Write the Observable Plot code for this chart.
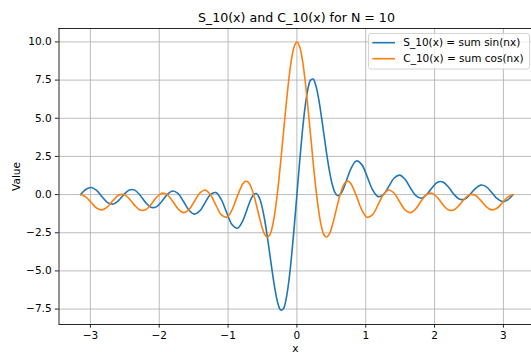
<!DOCTYPE html>
<html>
<head>
<meta charset="utf-8">
<script src="https://cdn.jsdelivr.net/npm/d3@7"></script>
<script src="https://cdn.jsdelivr.net/npm/@observablehq/plot@0.6"></script>
<style>
  html, body { margin: 0; padding: 0; background: #fff; overflow: hidden; }
  body { width: 531px; height: 352px; position: relative; font-family: "DejaVu Sans", sans-serif; }
  #title { position: relative; height: 24px; }
  #title span { position: absolute; left: 58.5px; width: 475.8px; top: 11.8px; text-align: center;
    font-size: 12.6px; line-height: 1; color: #000; white-space: nowrap; }
  #legend { position: absolute; left: 368px; top: 33px; }
</style>
</head>
<body>
<div id="title"><span>S_10(x) and C_10(x) for N = 10</span></div>
<div id="chart"></div>
<svg id="legend" width="163" height="37"></svg>
<script>
// x samples (radians)
const xs = [
  -3.1416, -3.0631, -2.9845, -2.9060, -2.8274, -2.7489, -2.6704, -2.5918, -2.5133, -2.4347,
  -2.3562, -2.2777, -2.1991, -2.1206, -2.0420, -1.9635, -1.8850, -1.8064, -1.7279, -1.6493,
  -1.5708, -1.4923, -1.4137, -1.3352, -1.2566, -1.1781, -1.0996, -1.0210, -0.9425, -0.8639,
  -0.7854, -0.7461, -0.7069, -0.6676, -0.6283, -0.5890, -0.5498, -0.5105, -0.4712, -0.4320,
  -0.3927, -0.3534, -0.3142, -0.2749, -0.2356, -0.1963, -0.1571, -0.1178, -0.0785, -0.0393,
  0,
  0.0393, 0.0785, 0.1178, 0.1571, 0.1963, 0.2356, 0.2749, 0.3142, 0.3534, 0.3927,
  0.4320, 0.4712, 0.5105, 0.5498, 0.5890, 0.6283, 0.6676, 0.7069, 0.7461, 0.7854,
  0.8639, 0.9425, 1.0210, 1.0996, 1.1781, 1.2566, 1.3352, 1.4137, 1.4923, 1.5708,
  1.6493, 1.7279, 1.8064, 1.8850, 1.9635, 2.0420, 2.1206, 2.1991, 2.2777, 2.3562,
  2.4347, 2.5133, 2.5918, 2.6704, 2.7489, 2.8274, 2.9060, 2.9845, 3.0631, 3.1416
];
// S_10(x) values
const sVals = [
  0, 0.348, 0.461, 0.253, -0.158, -0.523, -0.620, -0.395, 0, 0.300,
  0.293, -0.040, -0.510, -0.832, -0.806, -0.451, 0, 0.238, 0.073, -0.436,
  -1.000, -1.277, -1.085, -0.539, 0, 0.134, -0.316, -1.171, -1.963, -2.205,
  -1.707, -1.251, -0.751, -0.301, 0, 0.066, -0.166, -0.721, -1.583, -2.689,
  -3.937, -5.195, -6.314, -7.146, -7.565, -7.481, -6.853, -5.696, -4.081, -2.129,
  0,
  2.129, 4.081, 5.696, 6.853, 7.481, 7.565, 7.146, 6.314, 5.195, 3.937,
  2.689, 1.583, 0.721, 0.166, -0.066, 0, 0.301, 0.751, 1.251, 1.707,
  2.205, 1.963, 1.171, 0.316, -0.134, 0, 0.539, 1.085, 1.277, 1.000,
  0.436, -0.073, -0.238, 0, 0.451, 0.806, 0.832, 0.510, 0.040, -0.293,
  -0.300, 0, 0.395, 0.620, 0.523, 0.158, -0.253, -0.461, -0.348, 0
];
// C_10(x) values
const cVals = [
  0, -0.160, -0.539, -0.895, -1.000, -0.783, -0.380, -0.047, 0, -0.277,
  -0.707, -1.017, -1.000, -0.656, -0.194, 0.090, 0, -0.425, -0.927, -1.180,
  -1.000, -0.471, 0.085, 0.302, 0, -0.676, -1.316, -1.485, -1.000, -0.087,
  0.707, 0.872, 0.812, 0.514, 0, -0.669, -1.400, -2.079, -2.583, -2.797,
  -2.631, -2.033, -1.000, 0.421, 2.134, 3.999, 5.853, 7.524, 8.852, 9.705,
  10,
  9.705, 8.852, 7.524, 5.853, 3.999, 2.134, 0.421, -1.000, -2.033, -2.631,
  -2.797, -2.583, -2.079, -1.400, -0.669, 0, 0.514, 0.812, 0.872, 0.707,
  -0.087, -1.000, -1.485, -1.316, -0.676, 0, 0.302, 0.085, -0.471, -1.000,
  -1.180, -0.927, -0.425, 0, 0.090, -0.194, -0.656, -1.000, -1.017, -0.707,
  -0.277, 0, -0.047, -0.380, -0.783, -1.000, -0.895, -0.539, -0.160, 0
];
const seriesNames = ["S_10(x) = sum sin(nx)", "C_10(x) = sum cos(nx)"];
const seriesColors = ["#1f77b4", "#ff7f0e"];
const xTicks = [-3, -2, -1, 0, 1, 2, 3];
const yTicks = [-7.5, -5.0, -2.5, 0.0, 2.5, 5.0, 7.5, 10.0];
const xDomain = [-3.456, 3.456];
const yDomain = [-8.51, 10.88];

const fmt = (d, p) => (d < 0 ? "\u2212" : "") + Math.abs(d).toFixed(p);

const plot = Plot.plot({
  width: 531,
  height: 336,
  marginLeft: 58.5,
  marginRight: 0,
  marginTop: 4,
  marginBottom: 36,
  style: { fontFamily: "DejaVu Sans", fontSize: "10.5px", color: "#000", background: "transparent", overflow: "visible" },
  x: { domain: xDomain, range: [58.5, 534.3] },
  y: { domain: yDomain },
  marks: [
    Plot.gridX(xTicks, { stroke: "#b0b0b0", strokeOpacity: 1, strokeWidth: 0.85 }),
    Plot.gridY(yTicks, { stroke: "#b0b0b0", strokeOpacity: 1, strokeWidth: 0.85 }),
    Plot.line(xs, { x: xs, y: sVals, stroke: seriesColors[0], strokeWidth: 1.6, curve: "catmull-rom" }),
    Plot.line(xs, { x: xs, y: cVals, stroke: seriesColors[1], strokeWidth: 1.6, curve: "catmull-rom" }),
    Plot.ruleX([xDomain[0]], { stroke: "#000", strokeWidth: 0.85 }),
    Plot.ruleY([yDomain[0]], { stroke: "#000", strokeWidth: 0.85 }),
    Plot.ruleY([yDomain[1]], { stroke: "#000", strokeWidth: 0.85 }),
    Plot.axisX(xTicks, { anchor: "bottom", tickSize: 3.7, tickPadding: 3.7, strokeWidth: 0.85,
      tickFormat: d => fmt(d, 0), label: "x", labelAnchor: "center", labelArrow: "none", labelOffset: 27.5 }),
    Plot.axisY(yTicks, { anchor: "left", tickSize: 3.7, tickPadding: 3.7, strokeWidth: 0.85,
      tickFormat: d => fmt(d, 1), label: "Value", labelAnchor: "center", labelArrow: "none", labelOffset: 46.5 })
  ]
});
document.getElementById("chart").appendChild(plot);

// legend
const lg = d3.select("#legend");
lg.append("rect").attr("x", 0.5).attr("y", 0.5).attr("width", 161).attr("height", 35.5)
  .attr("rx", 2.5).attr("fill", "rgba(255,255,255,0.8)").attr("stroke", "#cccccc").attr("stroke-width", 0.85);
seriesNames.forEach((name, i) => {
  const cy = 9.7 + i * 16;
  lg.append("line").attr("x1", 4.3).attr("x2", 27).attr("y1", cy).attr("y2", cy)
    .attr("stroke", seriesColors[i]).attr("stroke-width", 1.6);
  lg.append("text").attr("x", 35.3).attr("y", cy + 3.6).attr("font-family", "DejaVu Sans")
    .attr("font-size", "10.5px").attr("fill", "#000").text(name);
});
</script>
</body>
</html>
